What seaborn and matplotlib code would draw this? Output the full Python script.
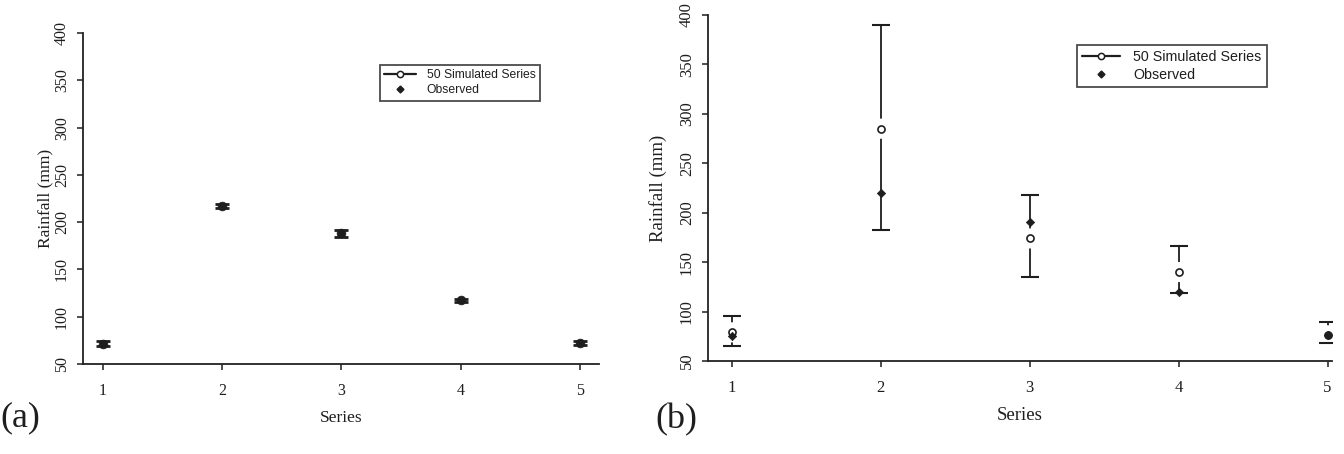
import numpy as np
import pandas as pd
import matplotlib
matplotlib.use("Agg")
import matplotlib.pyplot as plt
from matplotlib.lines import Line2D
import seaborn as sns

# ---------------- data ----------------
series = [1, 2, 3, 4, 5]
tick_labels = ["1", "2", "3", "4", "5"]
y_ticks = [50, 100, 150, 200, 250, 300, 350, 400]

# panel (a)
a_sim_mean = [71.5, 217, 188, 117.5, 72.5]
a_sim_low = [69.5, 214.5, 184.5, 116, 70]
a_sim_high = [73.8, 219.5, 191.5, 119.2, 74.6]
a_observed = [71.5, 217, 188, 117.5, 72.5]

# panel (b)
b_sim_mean = [79, 285, 174, 140, 76]
b_sim_low = [65, 183, 135, 119, 68]
b_sim_high = [96, 390, 218, 166, 89]
b_observed = [75, 220, 191, 120, 76]

legend_labels = ["50 Simulated Series", "Observed"]

# ---------------- style ----------------
sns.set_theme(style="ticks")
plt.rcParams["font.family"] = ["Liberation Serif", "DejaVu Serif"]
plt.rcParams["axes.edgecolor"] = "#222222"
plt.rcParams["axes.linewidth"] = 1.3
plt.rcParams["xtick.color"] = "#222222"
plt.rcParams["ytick.color"] = "#222222"

INK = "#1e1e1e"

fig = plt.figure(figsize=(13.44, 4.54), dpi=100)
W, H = 1344, 454


def pos(l, r, t, b):
    return [l / W, 1 - b / H, (r - l) / W, (b - t) / H]


ax_a = fig.add_axes(pos(83, 599, 33, 364))
ax_b = fig.add_axes(pos(708, 1332, 15, 361))


def draw_panel(ax, mean, low, high, obs, capsize, capthick, gap, circ_size,
               obs_marker, obs_size, xlim, label_fs, tick_fs, leg_fs,
               leg_anchor, handlelen, ylabel_x):
    df = pd.DataFrame({"series": series, "mean": mean, "low": low,
                       "high": high, "observed": obs})
    m = np.array(mean)
    yerr = np.vstack([m - np.array(low), np.array(high) - m])
    # vertical bars
    ax.errorbar(df["series"], df["mean"], yerr=yerr, fmt="none",
                ecolor=INK, elinewidth=1.3, capsize=0, zorder=2)
    # white gap around simulated mean
    if gap:
        sns.scatterplot(data=df, x="series", y="mean", ax=ax, marker="o",
                        s=gap, color="white", edgecolor="none",
                        linewidth=0, zorder=3, legend=False)
    # caps
    ax.errorbar(df["series"], df["mean"], yerr=yerr, fmt="none",
                ecolor=INK, elinewidth=0, capsize=capsize, capthick=capthick,
                zorder=4)
    # simulated mean (open circle)
    sns.scatterplot(data=df, x="series", y="mean", ax=ax, marker="o",
                    s=circ_size, facecolor="white", edgecolor=INK,
                    linewidth=1.2, zorder=5, legend=False)
    # observed
    sns.scatterplot(data=df, x="series", y="observed", ax=ax,
                    marker=obs_marker, s=obs_size, color=INK, edgecolor=INK,
                    linewidth=0.5, zorder=6, legend=False)

    ax.set_xlim(*xlim)
    ax.set_ylim(50, 400)
    ax.set_xticks(series)
    ax.set_xticklabels(tick_labels)
    ax.set_yticks(y_ticks)
    ax.set_yticklabels([str(v) for v in y_ticks], rotation=90, va="center")
    ax.tick_params(axis="both", direction="out", length=4.5, width=1.1,
                   labelsize=tick_fs, colors=INK)
    ax.tick_params(axis="x", pad=9)
    ax.tick_params(axis="y", pad=5)
    ax.set_xlabel("Series", fontsize=label_fs, color=INK, labelpad=8)
    ax.set_ylabel("Rainfall (mm)", fontsize=label_fs, color=INK)
    ax.yaxis.set_label_coords(ylabel_x, 0.5)
    sns.despine(ax=ax)

    handles = [
        Line2D([0], [0], color=INK, lw=1.6, marker="o", markersize=4.5,
               markerfacecolor="white", markeredgecolor=INK, markeredgewidth=1.1),
        Line2D([0], [0], color=INK, lw=0, marker="D", markersize=3.5,
               markerfacecolor=INK, markeredgecolor=INK),
    ]
    leg = ax.legend(handles, legend_labels, loc="upper left",
                    bbox_to_anchor=leg_anchor, frameon=True, fancybox=False,
                    shadow=False, numpoints=1, handlelength=handlelen,
                    handletextpad=0.9, labelspacing=0.25, borderpad=0.35,
                    borderaxespad=0,
                    prop={"family": ["Liberation Sans", "DejaVu Sans"],
                          "size": leg_fs})
    leg.get_frame().set_edgecolor(INK)
    leg.get_frame().set_linewidth(1.3)
    for t in leg.get_texts():
        t.set_color(INK)


draw_panel(ax_a, a_sim_mean, a_sim_low, a_sim_high, a_observed,
           capsize=5, capthick=2.0, gap=0, circ_size=14, obs_marker="o",
           obs_size=40, xlim=(0.832, 5.16), label_fs=12.5, tick_fs=11.5,
           leg_fs=8.7, leg_anchor=(0.576, 0.903), handlelen=2.6,
           ylabel_x=-0.058)

draw_panel(ax_b, b_sim_mean, b_sim_low, b_sim_high, b_observed,
           capsize=6.8, capthick=1.5, gap=210, circ_size=26, obs_marker="D",
           obs_size=18, xlim=(0.84, 5.03), label_fs=13.5, tick_fs=12,
           leg_fs=10.3, leg_anchor=(0.591, 0.913), handlelen=2.7,
           ylabel_x=-0.066)

fig.text(0 / W, 1 - 418 / H, "(a)", fontsize=26, ha="left", va="center",
         color=INK)
fig.text(655 / W, 1 - 420 / H, "(b)", fontsize=26, ha="left", va="center",
         color=INK)

fig.savefig("out.png", dpi=100)
